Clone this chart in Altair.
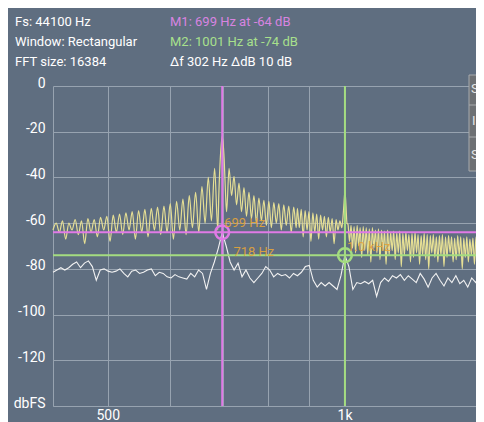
import altair as alt
import numpy as np
import pandas as pd

alt.data_transformers.disable_max_rows()

# ---------------- data ----------------
# Yellow spectrum (dBFS), piecewise: (start Hz, end Hz, values)
yel_a_hz = (426, 690)
yel_a_db = [-63,
            -60, -64, -59, -67, -60, -63, -58.5, -65, -59, -69, -58, -64,
            -58.5, -66, -57.5, -63, -57, -68, -56.5, -64, -56, -65, -55.5, -63,
            -55, -67, -54.5, -64, -54, -66, -53.5, -63, -53, -65, -52.5, -64,
            -51.5, -67, -50.5, -63, -49.5, -65, -48, -62, -46.5, -64, -44, -60,
            -40, -59, -36, -63]
yel_main_hz = [692, 695, 699, 703, 706]
yel_main_db = [-48, -32, -22, -32, -48]
yel_b_hz = (708, 868)
yel_b_db = [-55, -36, -48, -39.5, -52, -42.5, -55, -44.5, -57, -46.5, -58, -48,
            -60, -49, -59, -50, -61, -50.5, -62, -51, -60, -51.5, -63, -52,
            -61, -52.5, -64, -53, -62]
yel_c_hz = (871, 992)
yel_c_db = [-53.5, -62, -54, -66, -54.5, -63, -55, -68, -55.5, -64, -56, -67,
            -56.5, -63, -57, -66, -57.5, -64, -58, -69, -58.5, -63, -59, -62]
yel_k_hz = [995, 998, 1001, 1004, 1007]
yel_k_db = [-58, -52, -46, -52, -60]
yel_d_hz = (1010, 1502)
yel_d_peaks = [-60.5, -61, -61.5, -61, -62, -61.5, -62, -62.5, -62, -63, -62.5, -63,
               -63.5, -63, -64, -63.5, -64, -63.5, -64.5, -64, -65, -64.5, -64, -65,
               -65.5, -64.5, -65, -65.5, -65, -66, -65.5, -65, -66, -65.5, -66, -66.5,
               -65.5, -66, -66.5, -66, -67, -66.5, -66, -67, -66.5]
yel_d_troughs = [-68, -71, -73, -70, -75, -72, -74, -77, -71, -73, -76, -72,
                 -78, -74, -72, -76, -73, -79, -74, -72, -77, -75, -73, -78,
                 -74, -76, -80, -73, -75, -77, -74, -79, -75, -73, -77, -76,
                 -74, -80, -75, -77, -74, -78, -76, -75, -77]

# White spectrum (dBFS), piecewise
wht_a_hz = (426, 699)
wht_a_db = [-81.5, -80.5, -79.5, -80.5, -79.5, -78, -77, -79.5, -77.5, -76.5, -79,
            -85, -80.5, -80, -81, -81.5, -81, -80, -82, -83.5, -81, -80.5, -82,
            -81.5, -80.5, -80, -83, -81.5, -82, -83.5, -84, -82.5, -83.5, -84,
            -84.5, -82, -83.5, -80.5, -82, -89, -82, -77, -71, -64]
wht_b_hz = (699, 1001)
wht_b_db = [-64, -70, -77, -80.5, -77.5, -83.5, -80.5, -84, -86, -84, -82, -79,
            -80.5, -83.5, -82, -83, -82.5, -84, -82, -83, -81.5, -79, -78.5, -85,
            -88, -86, -87.5, -86, -87.5, -89, -83, -74]
wht_c_hz = (1001, 1502)
wht_c_db = [-74, -79, -89, -86, -86.5, -85.5, -86.5, -85, -92, -86, -84, -85.5,
            -83, -84, -82.5, -85, -83, -84.5, -86, -82, -84.5, -88, -84, -82,
            -85, -87.5, -84, -86, -83, -86.5, -85, -88, -84, -86, -83, -85]

# Markers
m_hz = [699, 1001]
m_db = [-64, -74]
lbl_text = ["699 Hz", "718 Hz", "1.0 kHz"]
lbl_hz = [699, 718, 1001]
lbl_db = [-60, -72.6, -70.4]

x_grid = [500, 600, 700, 800, 900, 1000]
y_ticks = [0, -20, -40, -60, -80, -100, -120, -140]
x_domain = [426, 1469]

# ---------------- build tables ----------------
def seg(rng, vals):
    return list(np.geomspace(rng[0], rng[1], len(vals))), list(vals)

yf, yd = [], []
for f, d in [seg(yel_a_hz, yel_a_db), (yel_main_hz, yel_main_db), seg(yel_b_hz, yel_b_db),
             seg(yel_c_hz, yel_c_db), (yel_k_hz, yel_k_db)]:
    yf += list(f); yd += list(d)
d_vals = []
for p, t in zip(yel_d_peaks, yel_d_troughs):
    d_vals += [p, t]
f, d = seg(yel_d_hz, d_vals)
yf += f; yd += d
yellow = pd.DataFrame({"f": yf, "db": yd})

wf, wd = [], []
for i, (rng, vals) in enumerate([(wht_a_hz, wht_a_db), (wht_b_hz, wht_b_db), (wht_c_hz, wht_c_db)]):
    f, d = seg(rng, vals)
    if i > 0:
        f, d = f[1:], d[1:]
    wf += f; wd += d
white = pd.DataFrame({"f": wf, "db": wd})

m1 = pd.DataFrame({"f": [m_hz[0]], "db": [m_db[0]]})
m2 = pd.DataFrame({"f": [m_hz[1]], "db": [m_db[1]]})
labels = pd.DataFrame({"t": lbl_text, "f": lbl_hz, "db": lbl_db})

# ---------------- styling ----------------
BG = "#5f6e80"
GRID = "#97a3b0"
YEL = "#e6df94"
WHT = "#f2f2f2"
VIO = "#e07ae6"
VIO_T = "#d884e0"
GRN = "#a4dc80"
GRN_T = "#a8e08c"
ORG = "#e3a53a"
FONT = "Roboto"

xs = alt.Scale(type="log", domain=x_domain, nice=False)
ys = alt.Scale(domain=[-140, 0], nice=False, zero=False)

xaxis = alt.Axis(values=x_grid, title=None, grid=True, gridColor=GRID, gridWidth=1,
                 ticks=False, domainColor=GRID, domainWidth=1, labelColor="white",
                 labelFont=FONT, labelFontSize=14, labelPadding=2, labelFlush=False,
                 labelOverlap=False, labelBaseline="top",
                 labelExpr="datum.value == 500 ? '500' : (datum.value == 1000 ? '1k' : '')")
yaxis = alt.Axis(values=y_ticks, title=None, grid=True, gridColor=GRID, gridWidth=1,
                 ticks=False, domainColor=GRID, domainWidth=1, labelColor="white",
                 labelFont=FONT, labelFontSize=14, labelPadding=8, labelFlush=False,
                 labelOverlap=False, labelBaseline="alphabetic", labelOffset=1,
                 labelExpr="datum.value == -140 ? 'dbFS' : '' + datum.value")

X = alt.X("f:Q", scale=xs, axis=xaxis)
Y = alt.Y("db:Q", scale=ys, axis=yaxis)

yel_line = alt.Chart(yellow).mark_line(color=YEL, strokeWidth=1.2,
                                       interpolate="monotone").encode(x=X, y=Y)
wht_line = alt.Chart(white).mark_line(color=WHT, strokeWidth=1.1).encode(x=X, y=Y)

def marker(df, col):
    v = alt.Chart(df).mark_rule(color=col, strokeWidth=2).encode(x=X)
    h = alt.Chart(df).mark_rule(color=col, strokeWidth=2).encode(y=Y)
    c = alt.Chart(df).mark_point(shape="circle", filled=False, size=190, strokeWidth=2.5,
                                 color=col, opacity=1).encode(x=X, y=Y)
    return v + h + c

lbls = alt.Chart(labels).mark_text(align="left", baseline="middle", dx=2, font=FONT,
                                   fontSize=13, color=ORG, opacity=0.9).encode(
    x=X, y=Y, text="t:N")

def txt(s, x, y, col="white"):
    return alt.Chart(alt.Data(values=[{}])).mark_text(
        text=s, align="left", baseline="middle", font=FONT, fontSize=13, color=col
    ).encode(x=alt.value(x), y=alt.value(y))

info = (txt("Fs: 44100 Hz", -38, -64) + txt("Window: Rectangular", -38, -44) +
        txt("FFT size: 16384", -38, -24) +
        txt("M1: 699 Hz at -64 dB", 117, -64, VIO_T) +
        txt("M2: 1001 Hz at -74 dB", 117, -44, GRN_T) +
        txt("\u0394f 302 Hz \u0394dB 10 dB", 117, -24))

menu_box = alt.Chart(alt.Data(values=[{}])).mark_rect(
    color="#6d7073", stroke="#a8aaad", strokeWidth=1).encode(
    x=alt.value(416), x2=alt.value(440), y=alt.value(-11), y2=alt.value(85))
menu_div = (alt.Chart(alt.Data(values=[{}])).mark_rule(color="#a8aaad").encode(
    x=alt.value(416), x2=alt.value(440), y=alt.value(19)) +
    alt.Chart(alt.Data(values=[{}])).mark_rule(color="#a8aaad").encode(
    x=alt.value(416), x2=alt.value(440), y=alt.value(51)))
menu_txt = (txt("S", 418, 3, "#e6e6e6") + txt("I", 419, 35, "#e6e6e6") +
            txt("S", 418, 69, "#e6e6e6"))

chart = alt.layer(
    yel_line, wht_line, marker(m1, VIO), marker(m2, GRN), lbls, info,
    menu_box, menu_div, menu_txt
).properties(
    width=423, height=320,
    autosize=alt.AutoSizeParams(type="none"),
    padding={"left": 45, "top": 78, "right": 0, "bottom": 16},
    background=BG,
).configure_view(strokeWidth=0)

chart.save("out.html", embed_options={"renderer": "svg", "actions": False})
